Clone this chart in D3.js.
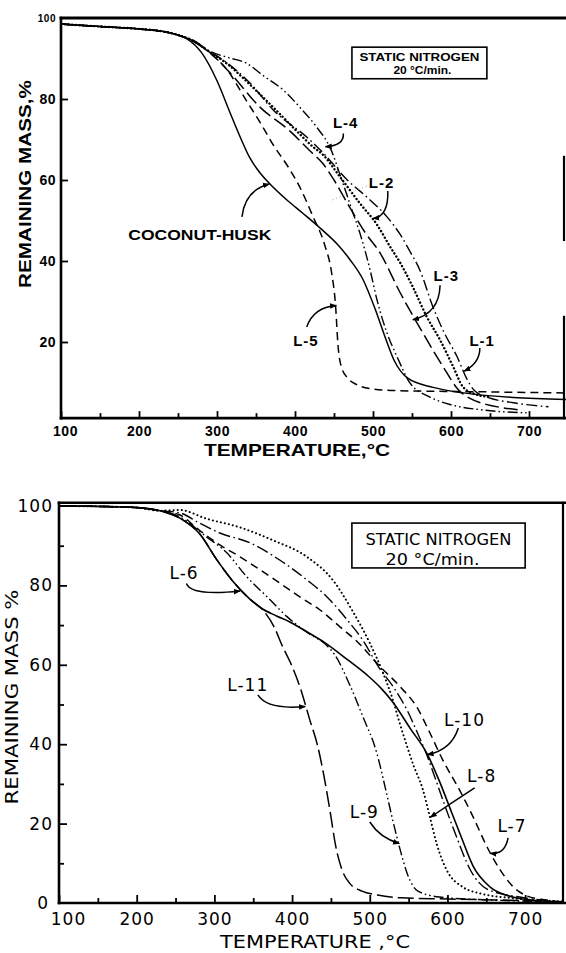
<!DOCTYPE html>
<html>
<head>
<meta charset="utf-8">
<script src="https://cdn.jsdelivr.net/npm/d3@7/dist/d3.min.js"></script>
<style>
  body { margin: 0; background: #fff; }
  svg { display: block; }
</style>
</head>
<body>
<svg id="chart" width="566" height="953"></svg>
<script>
// ---------- Upper panel: thermogravimetric curves (temperature °C, remaining mass %) ----------
const trunkTop = [[100,98.5],[150,97.9],[200,97.3],[230,96.7],[250,95.8]];
const coconutHusk = trunkTop.concat([[262,94.8],[280,91.5],[300,84.5],[317,76.5],[330,70.5],[342,65.5],[355,61.8],[367,59.2],[390,55],[410,51.8],[433,48],[454,44.2],[471,40.2],[487,35.5],[503,28],[515,21.5],[527,15.5],[545,11],[577,8.8],[614,7.5],[680,6.3],[750,5.8]]);
const lig1 = trunkTop.concat([[270,94.3],[290,91.8],[313,88.9],[342,84],[372,77.3],[415,70.6],[436,66.7],[467,60],[492,55.8],[518,50.9],[535,46.5],[547,42.5],[560,37.8],[577,28.6],[592,22],[608,16.3],[620,11],[630,8],[645,6.5],[680,5],[725,4]]);
const lig2 = trunkTop.concat([[270,94.3],[290,91.7],[313,88.7],[342,83.6],[377,77],[400,72.5],[423,68.2],[436,66.2],[458,60.7],[483,54.3],[505,49],[522,43.5],[535,39.5],[551,33.6],[569,26.2],[586,20.5],[603,13.8],[615,9],[630,7.2],[650,6.4]]);
const lig3 = trunkTop.concat([[270,94.2],[290,91.6],[317,86.4],[355,78],[394,72],[419,67.2],[436,64],[450,60],[470,53.3],[490,47],[509,42],[535,32.1],[564,22.2],[595,12.3],[608,8.5],[625,6],[645,4.6],[665,3.8],[690,3.2]]);
const lig4 = trunkTop.concat([[270,94.5],[291,91.8],[315,90.2],[338,88.8],[359,85.8],[385,82.2],[406,78],[428,73],[445,68],[460,60],[473,52.6],[483,47],[496,38],[505,30.5],[518,22.2],[531,16.3],[547,10],[573,6.4],[600,4.5],[637,3.3],[697,2.5]]);
const lig5 = trunkTop.concat([[270,94.3],[290,91.5],[313,87.2],[338,79.5],[355,74.3],[372,68.7],[392,63],[406,58.3],[423,51],[438,44],[447,37],[452,29],[455,19.5],[460,13.5],[468,11],[480,9.4],[499,8.4],[531,8],[640,7.7],[750,7.4]]);

// ---------- Lower panel ----------
const trunkBottom = [[100,100],[150,99.9],[200,99.6],[230,98.8]];
const lig6 = trunkBottom.concat([[255,97],[281,93],[303,86.5],[324,81],[346,76.5],[360,74.3],[380,72.3],[397,70.8],[420,68.2],[442,65.6],[470,61.5],[496,57.5],[515,54],[530,50.5],[552,44],[574,37.5],[590,30.5],[605,23],[618,16.5],[633,9.3],[655,4],[684,1.5],[720,0.5],[750,0.2]]);
const lig7 = trunkBottom.concat([[255,97.8],[280,94],[307,90.2],[333,87.2],[359,83.9],[384,80.6],[410,77.1],[436,73.8],[462,69.5],[484,65.8],[513,59.6],[539,54.5],[561,49.2],[577,43],[594,36],[616,28.3],[633,21.7],[651,14.1],[668,8.3],[684,4.2],[702,1.8],[725,0.8],[750,0.2]]);
const lig8 = trunkBottom.concat([[255,99],[290,96.8],[333,94.6],[375,91.4],[419,87.2],[453,81.2],[478,73.5],[500,65.5],[517,58],[530,51],[539,45],[548,39.5],[556,34.8],[568,28.8],[577,22],[586,15],[599,8.3],[620,4],[642,2.4],[680,1.3],[750,0.4]]);
const lig9 = trunkBottom.concat([[255,97.3],[290,92.2],[316,88.2],[342,82.1],[368,77.1],[393,72.2],[419,68.2],[445,64.8],[455,62.5],[475,54.6],[491,47],[509,37.8],[520,29],[530,20.5],[539,13.5],[549,7],[562,3],[590,1.5],[650,0.8],[750,0.3]]);
const lig10 = trunkBottom.concat([[255,98.3],[280,95.8],[307,93.2],[346,90.7],[384,86.4],[419,81.4],[445,77.1],[471,71.3],[490,66.5],[513,59],[530,54.5],[548,48.6],[561,43],[574,37],[585,31],[594,26],[612,16.5],[629,8.5],[651,3.5],[693,1.5],[750,0.3]]);
const lig11 = trunkBottom.concat([[255,97],[281,93],[303,86.5],[324,81],[346,76.5],[360,74.3],[377,69.5],[388,64.5],[398,60.5],[410,54.5],[423,46],[433,39.5],[441,32],[449,23],[456,14.5],[464,8.5],[474,5],[490,3],[510,2],[540,1.3],[600,1],[700,0.6],[750,0.3]]);

// ---------- Tick values ----------
const tempMajorTicks = [100,200,300,400,500,600,700];
const tempMinorTicks = [150,250,350,450,550,650];
const massTicksTop = [20,40,60,80,100];
const massMajorTicksBottom = [0,20,40,60,80,100];
const massMinorTicksBottom = [10,30,50,70,90];

// ---------- Curve labels: text, label anchor, leader (from, bend, tip) in data units ----------
const topLabels = [
  {text:"L-4", at:[465,74.3], from:[462,71.5], bend:[463,68.5], tip:[439,68.2]},
  {text:"L-2", at:[511,59.5], from:[519,57.3], bend:[520,51], tip:[500,50.5]},
  {text:"COCONUT-HUSK", at:[278,46.5], from:[332,50.9], bend:[336,57.5], tip:[367,59]},
  {text:"L-3", at:[594,36.5], from:[586,34], bend:[585,27], tip:[551,25.5]},
  {text:"L-5", at:[414,20.3], from:[415,23.7], bend:[424,28.6], tip:[453,29]},
  {text:"L-1", at:[640,20.3], from:[637,18.5], bend:[637,14.8], tip:[617,12.8]}
];
const bottomLabels = [
  {text:"L-6", at:[261,83], from:[264,80.5], bend:[270,77.3], tip:[333,78.6]},
  {text:"L-11", at:[343,55], from:[356,52.4], bend:[368,48.6], tip:[417,49.5]},
  {text:"L-10", at:[622,46], from:[614,44.1], bend:[605,38.5], tip:[574,37.4]},
  {text:"L-8", at:[644,32], from:[635,29], bend:[606,25.3], tip:[578,21.6]},
  {text:"L-9", at:[493,23], from:[500,20.4], bend:[513,16.4], tip:[538,15]},
  {text:"L-7", at:[683,19.4], from:[678,16.4], bend:[674,12.1], tip:[655,12.5]}
];
const conditionLines = ["STATIC NITROGEN", "20 °C/min."];

// ---------- Drawing ----------
const svg = d3.select("#chart");
const boldFont = "'Liberation Sans', Arial, sans-serif";
const plainFont = "'DejaVu Sans', 'Liberation Sans', sans-serif";

const defs = svg.append("defs");
defs.append("marker")
  .attr("id", "tipHead").attr("viewBox", "0 0 10 10")
  .attr("refX", 9).attr("refY", 5)
  .attr("markerWidth", 7).attr("markerHeight", 7)
  .attr("markerUnits", "userSpaceOnUse")
  .attr("orient", "auto")
  .append("path").attr("d", "M0,1 L10,5 L0,9 Z").attr("fill", "#000");

function drawPanel(cfg) {
  const g = svg.append("g");
  const {x, y} = cfg;
  const clipId = cfg.id + "-clip";
  defs.append("clipPath").attr("id", clipId)
    .append("rect")
    .attr("x", x(100)).attr("y", y(100) - 2)
    .attr("width", 566 - x(100)).attr("height", y(cfg.floor) - y(100) + 2);

  // curves
  const line = d3.line().x(d => x(d[0])).y(d => y(d[1])).curve(d3.curveMonotoneX);
  const curves = g.append("g").attr("clip-path", `url(#${clipId})`);
  cfg.series.forEach(s => {
    curves.append("path")
      .attr("d", line(s.data))
      .attr("fill", "none")
      .attr("stroke", "#000")
      .attr("stroke-width", s.width)
      .attr("stroke-dasharray", s.dash)
      .attr("stroke-linecap", s.cap || "butt")
      .attr("stroke-linejoin", "round");
  });

  // axes (ticks pointing inward)
  const xMinor = d3.axisBottom(x).tickValues(tempMinorTicks).tickSize(-cfg.minorTick).tickFormat("");
  const xMajor = d3.axisBottom(x).tickValues(tempMajorTicks).tickSize(-cfg.majorTick).tickPadding(cfg.xPad);
  const yMajor = d3.axisLeft(y).tickValues(cfg.yTicks).tickSize(-cfg.majorTick).tickPadding(cfg.yPad);
  const axisY = y(cfg.floor);
  [xMinor, xMajor].forEach(ax => {
    const a = g.append("g").attr("transform", `translate(0,${axisY})`).call(ax);
    a.select(".domain").remove();
    a.selectAll("line").attr("stroke", "#000").attr("stroke-width", 1.8);
    a.selectAll("text").attr("font-family", cfg.tickFont).attr("font-weight", cfg.tickWeight)
      .attr("font-size", cfg.tickSize).attr("letter-spacing", cfg.tickSpacing).attr("fill", "#000")
      .attr("dx", d => (d === 100 ? cfg.cornerShift : 0));
  });
  const ya = g.append("g").attr("transform", `translate(${x(100)},0)`).call(yMajor);
  ya.select(".domain").remove();
  ya.selectAll("line").attr("stroke", "#000").attr("stroke-width", 1.8);
  ya.selectAll("text").attr("font-family", cfg.tickFont).attr("font-weight", cfg.tickWeight)
    .attr("font-size", d => (d === 100 ? cfg.topTickSize : cfg.tickSize))
    .attr("letter-spacing", cfg.tickSpacing).attr("fill", "#000")
    .attr("dx", d => (d === 0 ? -4 : 0));
  ya.selectAll(".tick").filter(d => d === 100 || d === 0).select("line").remove();
  if (cfg.yMinor) {
    const ym = g.append("g").attr("transform", `translate(${x(100)},0)`)
      .call(d3.axisLeft(y).tickValues(cfg.yMinor).tickSize(-cfg.minorTick).tickFormat(""));
    ym.select(".domain").remove();
    ym.selectAll("line").attr("stroke", "#000").attr("stroke-width", 1.8);
  }

  // frame
  const frame = g.append("g").attr("stroke", "#000").attr("fill", "none").attr("stroke-linecap", "square");
  const topEdge = y(cfg.frameTopValue);
  frame.append("line").attr("x1", x(100)).attr("x2", 566).attr("y1", topEdge).attr("y2", topEdge).attr("stroke-width", cfg.frameTop);
  frame.append("line").attr("x1", x(100)).attr("x2", 566).attr("y1", axisY).attr("y2", axisY).attr("stroke-width", 2.6);
  frame.append("line").attr("x1", x(100)).attr("x2", x(100)).attr("y1", topEdge).attr("y2", axisY).attr("stroke-width", 2.6);
  const rightX = Math.min(x(750), 565) - 1;
  cfg.rightEdge.forEach(seg => {
    frame.append("line").attr("x1", rightX).attr("x2", rightX)
      .attr("y1", y(seg[0])).attr("y2", y(seg[1])).attr("stroke-width", 2.2);
  });

  // axis titles
  g.append("text").text(cfg.xTitle)
    .attr("x", cfg.xTitlePos[0]).attr("y", cfg.xTitlePos[1])
    .attr("text-anchor", "middle").attr("font-family", cfg.titleFont).attr("font-weight", cfg.titleWeight)
    .attr("font-size", cfg.titleSize).attr("textLength", cfg.xTitleLen).attr("lengthAdjust", "spacingAndGlyphs");
  g.append("text").text(cfg.yTitle)
    .attr("transform", `translate(${cfg.yTitlePos[0]},${cfg.yTitlePos[1]}) rotate(-90)`)
    .attr("text-anchor", "middle").attr("dominant-baseline", "central")
    .attr("font-family", cfg.titleFont).attr("font-weight", cfg.titleWeight)
    .attr("font-size", cfg.titleSize).attr("textLength", cfg.yTitleLen).attr("lengthAdjust", "spacingAndGlyphs");

  // condition box
  const bx = x(cfg.box[0]), by = y(cfg.box[1]);
  const bw = x(cfg.box[2]) - bx, bh = y(cfg.box[3]) - by;
  g.append("rect").attr("x", bx).attr("y", by).attr("width", bw).attr("height", bh)
    .attr("fill", "#fff").attr("stroke", "#000").attr("stroke-width", 1.6);
  conditionLines.forEach((t, i) => {
    g.append("text").text(t)
      .attr("x", bx + bw / 2 + cfg.boxText[i][0]).attr("y", by + cfg.boxText[i][1])
      .attr("text-anchor", "middle").attr("font-family", cfg.labelFont).attr("font-weight", cfg.labelWeight)
      .attr("font-size", cfg.boxFontSize).attr("textLength", cfg.boxText[i][2]).attr("lengthAdjust", "spacingAndGlyphs");
  });

  // curve labels with curved leaders
  cfg.labels.forEach(l => {
    const p = d3.path();
    p.moveTo(x(l.from[0]), y(l.from[1]));
    p.quadraticCurveTo(x(l.bend[0]), y(l.bend[1]), x(l.tip[0]), y(l.tip[1]));
    g.append("path").attr("d", p.toString()).attr("fill", "none").attr("stroke", "#000")
      .attr("stroke-width", 1.5).attr("marker-end", "url(#tipHead)");
    g.append("text").text(l.text)
      .attr("x", x(l.at[0])).attr("y", y(l.at[1]))
      .attr("text-anchor", "middle").attr("dominant-baseline", "central")
      .attr("font-family", cfg.labelFont).attr("font-weight", cfg.labelWeight)
      .attr("font-size", cfg.labelSize)
      .attr("letter-spacing", l.text.length > 5 ? null : 1)
      .attr("textLength", l.text.length > 5 ? cfg.longLabelLen : null)
      .attr("lengthAdjust", "spacingAndGlyphs");
  });
  return g;
}

// Upper panel
const xTop = d3.scaleLinear().domain([100, 750]).range([61, 568]);
const yTop = d3.scaleLinear().domain([0, 100]).range([423, 18]);
const topPanel = drawPanel({
  id: "upper", x: xTop, y: yTop, floor: 1.2, frameTopValue: 100,
  series: [
    {data: coconutHusk, width: 1.5, dash: null},
    {data: lig1, width: 1.4, dash: "11,3.5,1.6,3.5"},
    {data: lig2, width: 2.4, dash: "0.1,3.6", cap: "round"},
    {data: lig3, width: 1.5, dash: "14,5"},
    {data: lig4, width: 1.4, dash: "10,3,1.6,3,1.6,3"},
    {data: lig5, width: 1.5, dash: "8,5"}
  ],
  minorTick: 5, majorTick: 7, xPad: 8, yPad: 5, yTicks: massTicksTop,
  tickFont: boldFont, tickWeight: "bold", tickSize: 14, topTickSize: 10, tickSpacing: 0.5, cornerShift: 4,
  frameTop: 3, rightEdge: [[65.7, 45.2], [26.2, 1.2]],
  xTitle: "TEMPERATURE,°C", xTitlePos: [297, 456], xTitleLen: 186,
  yTitle: "REMAINING MASS,%", yTitlePos: [25, 184], yTitleLen: 208,
  titleFont: boldFont, titleWeight: "bold", titleSize: 17,
  box: [473, 92.8, 646, 85], boxText: [[0, 14, 120], [3, 27, 58]], boxFontSize: 11.5,
  labels: topLabels, labelFont: boldFont, labelWeight: "bold",
  labelSize: 15, longLabelLen: 143
});

// a faint dotted leader beside L-2
topPanel.append("line")
  .attr("x1", xTop(492)).attr("y1", yTop(58.5)).attr("x2", xTop(447)).attr("y2", yTop(55))
  .attr("stroke", "#999").attr("stroke-width", 1).attr("stroke-dasharray", "1,3");

// Lower panel
const xBot = d3.scaleLinear().domain([100, 750]).range([59, 564]);
const yBot = d3.scaleLinear().domain([0, 100]).range([903, 506]);
drawPanel({
  id: "lower", x: xBot, y: yBot, floor: 0, frameTopValue: 100.8,
  series: [
    {data: lig6, width: 1.6, dash: null},
    {data: lig7, width: 1.5, dash: "8,5"},
    {data: lig8, width: 2, dash: "0.1,4", cap: "round"},
    {data: lig9, width: 1.4, dash: "10,3,1.6,3,1.6,3"},
    {data: lig10, width: 1.4, dash: "12,3.5,1.6,3.5"},
    {data: lig11, width: 1.5, dash: "16,5"}
  ],
  minorTick: 5, majorTick: 8, xPad: 10, yPad: 6, yTicks: massMajorTicksBottom, yMinor: massMinorTicksBottom,
  tickFont: plainFont, tickWeight: "normal", tickSize: 17, topTickSize: 17, tickSpacing: 1, cornerShift: 9,
  frameTop: 2.6, rightEdge: [[100.8, 0]],
  xTitle: "TEMPERATURE ,°C", xTitlePos: [315, 948], xTitleLen: 190,
  yTitle: "REMAINING MASS %", yTitlePos: [11, 697], yTitleLen: 215,
  titleFont: plainFont, titleWeight: "normal", titleSize: 18,
  box: [477, 95.7, 700, 84.4], boxText: [[0, 22, 146], [-6, 42, 94]], boxFontSize: 15,
  labels: bottomLabels, labelFont: plainFont, labelWeight: "normal",
  labelSize: 17, longLabelLen: null
});
</script>
</body>
</html>
